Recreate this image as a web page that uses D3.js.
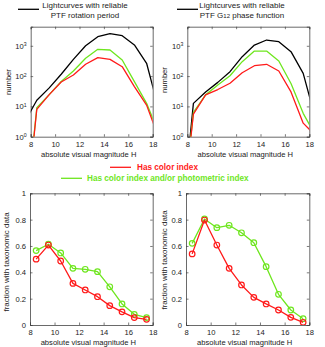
<!DOCTYPE html>
<html><head><meta charset="utf-8">
<script src="https://cdn.jsdelivr.net/npm/d3@7"></script>
<style>
body{margin:0;background:#fff;}
svg{display:block;font-family:"Liberation Sans",Arial,sans-serif;}
</style></head>
<body>
<svg id="c" width="325" height="347"></svg>
<script>
// ---- data ----
const binCenters = [7.5, 8.5, 9.5, 10.5, 11.5, 12.5, 13.5, 14.5, 15.5, 16.5, 17.5, 18.5];
const rotAll   = [3, 16, 40, 115, 357, 1000, 2000, 2500, 2150, 1070, 265, 8];
const rotPlus  = [0.001, 9, 24, 66, 148, 388, 765, 725, 340, 66, 12.6, 1.3];
const rotColor = [0.001, 8, 24, 64, 109, 245, 405, 357, 204, 45, 11, 0.9];
const phaseAll   = [0.001, 12.6, 30, 62, 140, 437, 1060, 1550, 1370, 640, 123, 4];
const phasePlus  = [0.001, 6.3, 24, 51, 103, 300, 670, 670, 315, 57, 5.9, 1.1];
const phaseColor = [0.001, 5.6, 24, 36, 58, 129, 220, 245, 147, 30, 2.8, 1.1];
const fracH = [8.5, 9.5, 10.5, 11.5, 12.5, 13.5, 14.5, 15.5, 16.5, 17.5];
const fracRotPlus  = [0.565, 0.613, 0.547, 0.43, 0.423, 0.405, 0.29, 0.16, 0.081, 0.056];
const fracRotColor = [0.50, 0.607, 0.486, 0.316, 0.266, 0.215, 0.147, 0.10, 0.056, 0.043];
const fracPhasePlus  = [0.62, 0.805, 0.739, 0.757, 0.70, 0.625, 0.443, 0.233, 0.114, 0.048];
const fracPhaseColor = [0.54, 0.797, 0.607, 0.43, 0.304, 0.21, 0.16, 0.114, 0.058, 0.02];
const xTicks = [8, 10, 12, 14, 16, 18];
const logTicks = [1, 10, 100, 1000];
const fracTicks = [0, 0.2, 0.4, 0.6, 0.8, 1];
const legendTop = [["Lightcurves with reliable", "PTF rotation period"], ["Lightcurves with reliable", "PTF G12 phase function"]];
const legendMid = ["Has color index", "Has color index and/or photometric index"];
const xLabel = "absolute visual magnitude H";

const RED = "#ff1a1a", GREEN = "#6ee61e", BLACK = "#000";
const AX = "#444";
const FS = 7.6;
const svg = d3.select("#c");

function panel(opts) {
  const {x0,x1,y0,y1,log,series,clipId,yTicks,markers,ylabel,ylabelX,ylabelY,ylabelFS} = opts;
  const g = svg.append("g");
  const x = d3.scaleLinear().domain([8,18]).range([x0,x1]);
  const y = log ? d3.scaleLog().domain([1, Math.pow(10,3.63)]).range([y1,y0])
                : d3.scaleLinear().domain([0,1]).range([y1,y0]);
  svg.append("defs").append("clipPath").attr("id",clipId)
    .append("rect").attr("x",x0).attr("y",y0).attr("width",x1-x0).attr("height",y1-y0);
  const ax = d3.axisBottom(x).tickValues(xTicks).tickSize(-2.5).tickPadding(5).tickFormat(d3.format("d"));
  const axT = d3.axisTop(x).tickValues(xTicks).tickSize(-2.5).tickFormat("");
  const ay = d3.axisLeft(y).tickValues(yTicks).tickSize(-2.5).tickPadding(4);
  const ayR = d3.axisRight(y).tickValues(yTicks).tickSize(-2.5).tickFormat("");
  if (!log) ay.tickFormat(d => d===0||d===1 ? d3.format("d")(d) : d3.format(".1f")(d));
  else ay.tickFormat("");
  const gx = g.append("g").attr("transform",`translate(0,${y1})`).call(ax);
  const gxt = g.append("g").attr("transform",`translate(0,${y0})`).call(axT);
  const gy = g.append("g").attr("transform",`translate(${x0},0)`).call(ay);
  const gyr = g.append("g").attr("transform",`translate(${x1},0)`).call(ayR);
  [gx,gxt,gy,gyr].forEach(a=>{
    a.select(".domain").attr("stroke",AX).attr("stroke-width",0.8);
    a.selectAll(".tick line").attr("stroke",AX).attr("stroke-width",0.7);
    a.selectAll("text").attr("font-size",FS).attr("fill","#222").attr("font-family",null);
  });
  if (log) {
    gy.selectAll(".tick").each(function(d){
      const t = d3.select(this).append("text").attr("x",-4).attr("dy","0.32em")
        .attr("text-anchor","end").attr("font-size",FS).attr("fill","#222");
      t.append("tspan").text("10");
      t.append("tspan").attr("dy","-0.45em").attr("font-size",FS*0.68).text(String(Math.round(Math.log10(d))));
    });
  }
  g.append("text").attr("x",(x0+x1)/2 - 3).attr("y",y1+20).attr("text-anchor","middle")
    .attr("font-size",FS).attr("fill","#222").text(xLabel);
  g.append("text").attr("transform",`translate(${ylabelX},${ylabelY}) rotate(-90)`)
    .attr("text-anchor","middle").attr("font-size",ylabelFS||FS).attr("fill","#222").text(ylabel);
  const gl = g.append("g").attr("clip-path",`url(#${clipId})`);
  series.forEach(s=>{
    const line = d3.line().x((d,i)=>x(s.xs[i])).y(d=>y(d));
    gl.append("path").datum(s.vals).attr("d",line).attr("fill","none")
      .attr("stroke",s.color).attr("stroke-width",1.3).attr("stroke-linejoin","round");
    if (markers) {
      gl.selectAll(null).data(s.vals).enter().append("circle")
        .attr("cx",(d,i)=>x(s.xs[i])).attr("cy",d=>y(d)).attr("r",2.8)
        .attr("fill","none").attr("stroke",s.color).attr("stroke-width",1.2);
    }
  });
  return g;
}

panel({x0:30.7,x1:152.7,y0:26.7,y1:136.7,log:true,clipId:"c1",yTicks:logTicks,
  ylabel:"number",ylabelX:10.5,ylabelY:82,
  series:[{xs:binCenters,vals:rotAll,color:BLACK},{xs:binCenters,vals:rotPlus,color:GREEN},{xs:binCenters,vals:rotColor,color:RED}]});
panel({x0:187.3,x1:309.3,y0:26.7,y1:136.7,log:true,clipId:"c2",yTicks:logTicks,
  ylabel:"number",ylabelX:167,ylabelY:80,
  series:[{xs:binCenters,vals:phaseAll,color:BLACK},{xs:binCenters,vals:phasePlus,color:GREEN},{xs:binCenters,vals:phaseColor,color:RED}]});
panel({x0:30,x1:152.7,y0:193.3,y1:325,log:false,clipId:"c3",yTicks:fracTicks,markers:true,
  ylabel:"fraction with taxonomic data",ylabelX:8.5,ylabelY:262,ylabelFS:8,
  series:[{xs:fracH,vals:fracRotPlus,color:GREEN},{xs:fracH,vals:fracRotColor,color:RED}]});
panel({x0:186,x1:309.3,y0:193.3,y1:325,log:false,clipId:"c4",yTicks:fracTicks,markers:true,
  ylabel:"fraction with taxonomic data",ylabelX:167,ylabelY:260,ylabelFS:8,
  series:[{xs:fracH,vals:fracPhasePlus,color:GREEN},{xs:fracH,vals:fracPhaseColor,color:RED}]});

// top legends
[[18,39,85],[177,198,242]].forEach((p,i)=>{
  svg.append("line").attr("x1",p[0]).attr("x2",p[1]).attr("y1",9.3).attr("y2",9.3)
    .attr("stroke",BLACK).attr("stroke-width",1.3);
  const t = svg.append("text").attr("x",p[2]).attr("text-anchor","middle").attr("font-size",8).attr("fill","#222");
  t.append("tspan").attr("x",p[2]).attr("y",7.5).text(legendTop[i][0]);
  if (i===0) t.append("tspan").attr("x",p[2]).attr("y",17.5).text(legendTop[i][1]);
  else {
    t.append("tspan").attr("x",p[2]).attr("y",17.5).text("PTF G");
    t.append("tspan").attr("font-size",6).text("12");
    t.append("tspan").text(" phase function");
  }
});
// middle legend
svg.append("line").attr("x1",110).attr("x2",131).attr("y1",167.3).attr("y2",167.3).attr("stroke",RED).attr("stroke-width",1.3);
svg.append("text").attr("x",137).attr("y",167.3).attr("dy","0.35em").attr("font-size",8.2).attr("font-weight","bold")
  .attr("fill",RED).text(legendMid[0]);
svg.append("line").attr("x1",61).attr("x2",82).attr("y1",178.3).attr("y2",178.3).attr("stroke",GREEN).attr("stroke-width",1.3);
svg.append("text").attr("x",87).attr("y",178.3).attr("dy","0.35em").attr("font-size",8.2).attr("font-weight","bold")
  .attr("fill",GREEN).text(legendMid[1]);
</script>
</body></html>
